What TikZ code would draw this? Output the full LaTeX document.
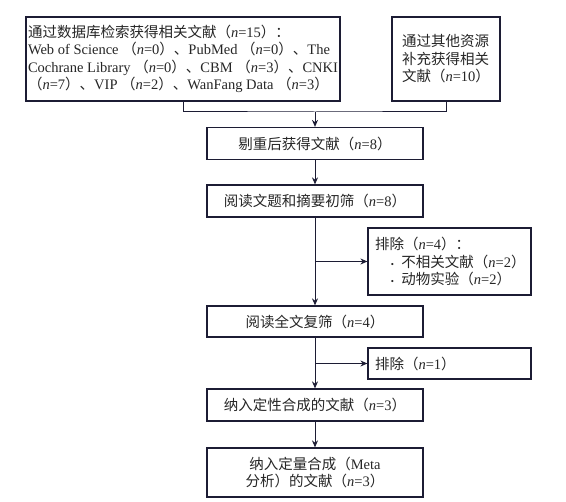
\documentclass[tikz,border=0pt]{standalone}
\usepackage{fontspec}
\setmainfont{Liberation Serif}
\newfontfamily\cjk{Noto Sans CJK SC}
\usetikzlibrary{arrows.meta}

\definecolor{inkline}{RGB}{28,28,52}
\newcommand{\zh}[1]{{\cjk #1}}
\newcommand{\cnt}[1]{\zh{（}\textit{n}=#1\zh{）}}
\newcommand{\dotitem}[1]{\mbox{\hspace*{1.1em}{\small\textbullet}\hspace{0.5em}#1}}

\begin{document}
\begin{tikzpicture}[x=1pt, y=-1pt,
    box_style/.style={draw=inkline, line width=1.2pt, fill=white, inner sep=0pt,
        font=\fontsize{14.5}{17.5}\selectfont, text=black!85},
    main_box/.style={box_style, minimum width=216pt},
    excl_box/.style={box_style, minimum width=163pt, inner xsep=7pt, text width=149pt, align=left},
    flow_line/.style={draw=inkline, line width=1pt},
    flow_arrow/.style={flow_line, -{Stealth[length=7pt, width=6pt]}}
]
    % Canvas
    \useasboundingbox (0,0) rectangle (566,502);

    % Sources
    \node (db_search) at (183,59) [box_style, minimum width=314pt, minimum height=84pt, align=left]
        {\zh{通过数据库检索获得相关文献}\cnt{15}\zh{：}\\
         Web of Science \cnt{0}\zh{、}PubMed \cnt{0}\zh{、}The\\
         Cochrane Library \cnt{0}\zh{、}CBM \cnt{3}\zh{、}CNKI\\
         \cnt{7}\zh{、}VIP \cnt{2}\zh{、}WanFang Data \cnt{3}};
    \node (other_src) at (446,59) [box_style, minimum width=108pt, minimum height=84pt, align=left]
        {\zh{通过其他资源}\\ \zh{补充获得相关}\\ \zh{文献}\cnt{10}};

    % Main flow
    \node (dedup) at (315,143.5) [main_box, minimum height=32pt] {\zh{剔重后获得文献}\cnt{8}};
    \node (title_screen) at (315,201) [main_box, minimum height=32pt] {\zh{阅读文题和摘要初筛}\cnt{8}};
    \node (full_screen) at (315,321.5) [main_box, minimum height=31pt] {\zh{阅读全文复筛}\cnt{4}};
    \node (qual_syn) at (315,405) [main_box, minimum height=32pt] {\zh{纳入定性合成的文献}\cnt{3}};
    \node (meta_syn) at (315,472.5) [main_box, minimum height=49pt, align=center]
        {\zh{纳入定量合成}\zh{（}Meta\\ \zh{分析）的文献}\cnt{3}};

    % Exclusions
    \node (excl_one) at (449.5,261.5) [excl_box, minimum height=67pt]
        {\zh{排除}\cnt{4}\zh{：}\\
         \dotitem{\zh{不相关文献}\cnt{2}}\\
         \dotitem{\zh{动物实验}\cnt{2}}};
    \node (excl_two) at (449.5,363.5) [excl_box, minimum height=31pt] {\zh{排除}\cnt{1}};

    % Merge the two sources
    \coordinate (merge) at (dedup.north |- 0,112);
    \draw[flow_line] (db_search.south) |- (merge) -| (other_src.south);
    \draw[flow_arrow] (merge) -- (dedup.north);

    % Down the main flow
    \draw[flow_arrow] (dedup.south) -- (title_screen.north);
    \draw[flow_arrow] (title_screen.south) -- (full_screen.north);
    \draw[flow_arrow] (full_screen.south) -- (qual_syn.north);
    \draw[flow_arrow] (qual_syn.south) -- (meta_syn.north);

    % Side branches
    \draw[flow_arrow] (title_screen.south |- excl_one.west) -- (excl_one.west);
    \draw[flow_arrow] (full_screen.south |- excl_two.west) -- (excl_two.west);

\end{tikzpicture}
\end{document}
